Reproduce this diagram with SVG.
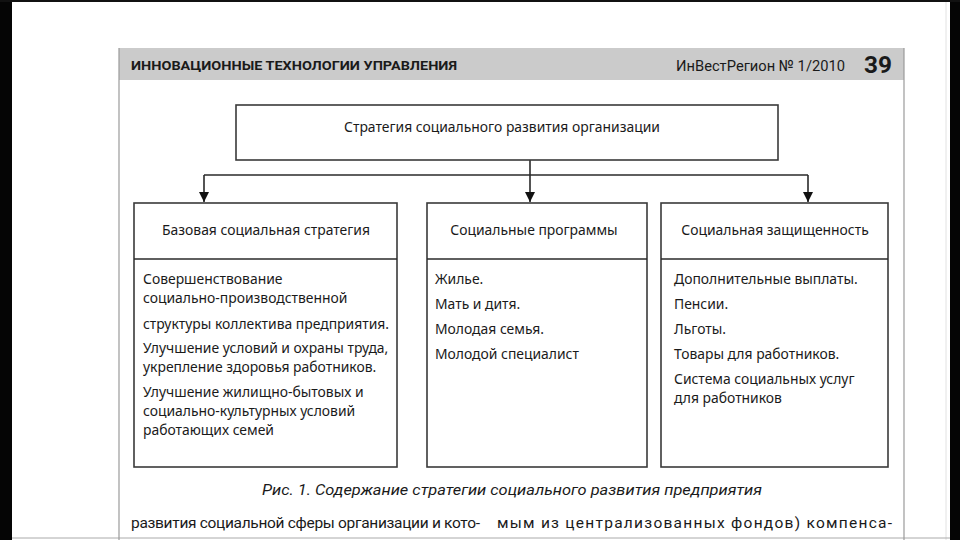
<svg xmlns="http://www.w3.org/2000/svg" width="960" height="540" viewBox="0 0 960 540">
<defs>
<style>
.box{fill:#fff;stroke:#3a3a3a;stroke-width:1.6}
.ln{fill:none;stroke:#2a2a2a;stroke-width:1.6}
.t{font-family:"Noto Sans","Open Sans",sans-serif;font-size:13.9px;fill:#1a1a1a}
.h{text-anchor:middle}
.pg{fill:none;stroke:#9a9a9a;stroke-width:1.2}
.cond{font-family:"Liberation Sans Narrow","Roboto","Liberation Sans",sans-serif;fill:#1a1a1a}
</style>
<marker id="arr" viewBox="0 0 10 10" refX="10" refY="5" markerWidth="10" markerHeight="10" markerUnits="userSpaceOnUse" orient="auto">
<path d="M0,0 L10,5 L0,10 Z" fill="#111"/>
</marker>
</defs>
<rect x="0" y="0" width="960" height="540" fill="#fff"/>
<rect x="0" y="0" width="12" height="540" fill="#050505"/>
<rect x="950" y="0" width="10" height="540" fill="#050505"/>
<rect x="0" y="0" width="960" height="2" fill="#111"/>
<line x1="946" y1="2" x2="946" y2="540" stroke="#e2e2e2" stroke-width="1"/>
<line x1="12" y1="538" x2="950" y2="538" stroke="#aaa" stroke-width="1"/>
<g id="page">
<rect x="119" y="48" width="785" height="32" fill="#cbcbcb"/>
<line class="pg" x1="119" y1="48" x2="119" y2="540"/>
<line class="pg" x1="904" y1="48" x2="904" y2="540"/>
<text class="cond" x="131" y="70" font-size="13.5" font-weight="bold" textLength="326" lengthAdjust="spacingAndGlyphs">ИННОВАЦИОННЫЕ ТЕХНОЛОГИИ УПРАВЛЕНИЯ</text>
<text class="cond" x="676" y="71" font-size="15.5" textLength="169" lengthAdjust="spacingAndGlyphs">ИнВестРегион № 1/2010</text>
<text class="cond" x="864" y="73" font-size="23" font-weight="bold" textLength="28" lengthAdjust="spacingAndGlyphs">39</text>
</g>
<g id="connectors">
<polyline class="ln" points="204,175 808,175"/>
<line class="ln" x1="530" y1="160" x2="530" y2="202" marker-end="url(#arr)"/>
<line class="ln" x1="204" y1="175" x2="204" y2="202" marker-end="url(#arr)"/>
<line class="ln" x1="808" y1="175" x2="808" y2="202" marker-end="url(#arr)"/>
</g>
<g id="root">
<rect class="box" x="236" y="105" width="542" height="55"/>
<text class="t h" x="502" y="132">Стратегия социального развития организации</text>
</g>
<g id="base">
<rect class="box" x="134" y="203" width="263" height="264"/>
<line class="ln" x1="134" y1="259" x2="397" y2="259"/>
<text class="t h" x="266" y="235">Базовая социальная стратегия</text>
<text class="t" x="143" y="284">Совершенствование</text>
<text class="t" x="143" y="303">социально-производственной</text>
<text class="t" x="143" y="329">структуры коллектива предприятия.</text>
<text class="t" x="143" y="353">Улучшение условий и охраны труда,</text>
<text class="t" x="143" y="372">укрепление здоровья работников.</text>
<text class="t" x="143" y="397">Улучшение жилищно-бытовых и</text>
<text class="t" x="143" y="416">социально-культурных условий</text>
<text class="t" x="143" y="435">работающих семей</text>
</g>
<g id="programs">
<rect class="box" x="427" y="203" width="220" height="264"/>
<line class="ln" x1="427" y1="259" x2="647" y2="259"/>
<text class="t h" x="534" y="235">Социальные программы</text>
<text class="t" x="435" y="284">Жилье.</text>
<text class="t" x="435" y="309">Мать и дитя.</text>
<text class="t" x="435" y="334">Молодая семья.</text>
<text class="t" x="435" y="359">Молодой специалист</text>
</g>
<g id="protection">
<rect class="box" x="661" y="203" width="227" height="264"/>
<line class="ln" x1="661" y1="259" x2="888" y2="259"/>
<text class="t h" x="775" y="235">Социальная защищенность</text>
<text class="t" x="674" y="284">Дополнительные выплаты.</text>
<text class="t" x="674" y="309">Пенсии.</text>
<text class="t" x="674" y="334">Льготы.</text>
<text class="t" x="674" y="359">Товары для работников.</text>
<text class="t" x="674" y="384">Система социальных услуг</text>
<text class="t" x="674" y="403">для работников</text>
</g>
<g id="caption">
<text class="cond" x="262" y="495" font-size="15.5" font-style="italic" textLength="500" lengthAdjust="spacingAndGlyphs" fill="#333">Рис. 1. Содержание стратегии социального развития предприятия</text>
<text class="cond" x="131" y="528" font-size="15.5" textLength="349" lengthAdjust="spacing">развития социальной сферы организации и кото-</text>
<text class="cond" x="497" y="528" font-size="15.5" textLength="395" lengthAdjust="spacing">мым из централизованных фондов) компенса-</text>
</g>
</svg>
